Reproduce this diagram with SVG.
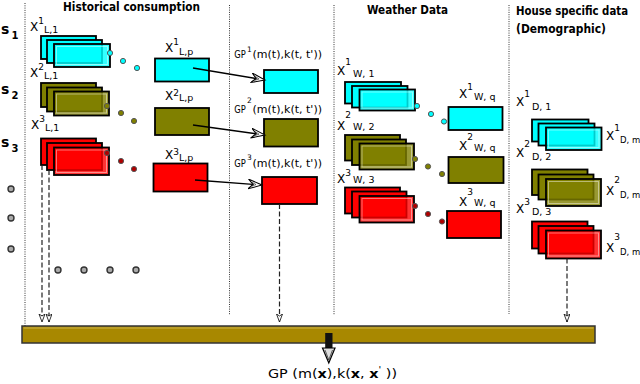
<svg xmlns="http://www.w3.org/2000/svg" width="640" height="384" viewBox="0 0 640 384">
<style>
text{font-family:"DejaVu Sans","Liberation Sans",sans-serif;fill:#000}
.t{font-weight:bold;font-size:12px}
.x{font-size:12px}
.sp{font-size:9px}
.sb{font-size:9.5px}
.sd{font-size:8.5px}
.s{font-weight:bold;font-size:14px}
.sn{font-weight:bold;font-size:10px}
.gp{font-size:11px}
.gs{font-size:7.5px}
.c{fill:#00ffff}
.o{fill:#808000}
.r{fill:#ff0000}
rect.n{stroke:#000;stroke-width:1.8}
rect.f{fill-opacity:0.8}
rect.h{fill:none;stroke:#fff;stroke-opacity:0.45;stroke-width:1}
.sep{stroke:#333;stroke-width:1;stroke-dasharray:1 1.3;fill:none}
.dash{stroke:#222;stroke-width:1.2;stroke-dasharray:5 2.5;fill:none;marker-end:url(#dh)}
.arr{stroke:#000;stroke-width:1.3;fill:none;marker-end:url(#ah)}
.cc{stroke:#555;stroke-width:1}
.dot{fill:#aaa;stroke:#333;stroke-width:1.4}
</style>
<defs>
<marker id="ah" markerUnits="userSpaceOnUse" markerWidth="16" markerHeight="12" refX="14" refY="5" orient="auto">
<path d="M0,0 L14,5 L0,10 L5,5 Z" fill="#fff" stroke="#000" stroke-width="1"/>
<path d="M2,2 L6,5 L2,8 M4,3 L8,5 L4,7" fill="none" stroke="#000" stroke-width="0.5"/>
</marker>
<marker id="dh" markerUnits="userSpaceOnUse" markerWidth="10" markerHeight="8" refX="8" refY="3" orient="auto">
<path d="M0,0 L8,3 L0,6 L2,3 Z" fill="#fff" stroke="#000" stroke-width="0.8"/>
</marker>
</defs>

<g id="separators">
<line class="sep" x1="25" y1="3" x2="25" y2="326"/>
<line class="sep" x1="229.5" y1="5" x2="229.5" y2="315"/>
<line class="sep" x1="334" y1="5" x2="334" y2="315"/>
<line class="sep" x1="509" y1="5" x2="509" y2="314"/>
</g>

<g id="titles">
<text class="t" x="63" y="10.5" textLength="137" lengthAdjust="spacingAndGlyphs">Historical consumption</text>
<text class="t" x="367" y="14" textLength="81" lengthAdjust="spacingAndGlyphs">Weather Data</text>
<text class="t" x="516" y="14.5" textLength="112" lengthAdjust="spacingAndGlyphs">House specific data</text>
<text class="t" x="516" y="32.5" textLength="90" lengthAdjust="spacingAndGlyphs">(Demographic)</text>
</g>

<g id="series-labels">
<text class="s" x="1" y="33.5">s<tspan class="sn" x="11.5" y="39">1</tspan></text>
<text class="s" x="1" y="93.5">s<tspan class="sn" x="11.5" y="99">2</tspan></text>
<text class="s" x="1" y="147">s<tspan class="sn" x="11.5" y="152">3</tspan></text>
</g>

<g id="ellipsis-dots">
<circle class="dot" cx="11" cy="189" r="3"/>
<circle class="dot" cx="11" cy="218" r="3"/>
<circle class="dot" cx="11" cy="249" r="3"/>
<circle class="dot" cx="58" cy="270" r="3"/>
<circle class="dot" cx="84" cy="270" r="3"/>
<circle class="dot" cx="110" cy="270" r="3"/>
<circle class="dot" cx="136" cy="270" r="3"/>
</g>

<g id="hist-1">
<text class="x" x="30" y="30.5">X<tspan class="sp" y="24">1</tspan><tspan class="sb" y="33">L,1</tspan></text>
<rect class="n c" x="41" y="36" width="55" height="23"/>
<rect class="n c" x="47" y="40" width="55" height="23"/>
<rect class="n c f" x="54" y="44" width="56" height="23"/>
<rect class="h" x="56.5" y="46.5" width="51" height="18"/>
<circle class="cc c" cx="110" cy="53" r="2.6"/>
<circle class="cc c" cx="123" cy="61" r="2.6"/>
<circle class="cc c" cx="137" cy="68" r="2.6"/>
</g>
<g id="hist-2">
<text class="x" x="30" y="76.5">X<tspan class="sp" y="70">2</tspan><tspan class="sb" y="79">L,1</tspan></text>
<rect class="n o" x="41" y="83" width="55" height="24"/>
<rect class="n o" x="47" y="87.5" width="55" height="24"/>
<rect class="n o f" x="54" y="91.5" width="55" height="24"/>
<rect class="h" x="56.5" y="94" width="50" height="19"/>
<circle class="cc o" cx="107" cy="106" r="2.6"/>
<circle class="cc o" cx="121" cy="113" r="2.6"/>
<circle class="cc o" cx="134" cy="121" r="2.6"/>
</g>
<g id="hist-3">
<text class="x" x="31" y="128.5">X<tspan class="sp" y="122">3</tspan><tspan class="sb" y="131">L,1</tspan></text>
<rect class="n r" x="41" y="138.5" width="55" height="26.5"/>
<rect class="n r" x="47" y="143" width="55" height="27"/>
<rect class="n r f" x="54" y="147.5" width="55" height="27.5"/>
<rect class="h" x="56.5" y="150" width="50" height="22.5"/>
<circle class="cc" cx="107" cy="153" r="2.6" fill="#b00000"/>
<circle class="cc" cx="121" cy="161" r="2.6" fill="#b00000"/>
<circle class="cc" cx="134" cy="169" r="2.6" fill="#b00000"/>
</g>

<g id="hist-p-1">
<text class="x" x="165" y="51.5">X<tspan class="sp" y="44.5">1</tspan><tspan class="sb" y="54.5">L,p</tspan></text>
<rect class="n c" x="155" y="58.5" width="54" height="23"/>
</g>
<g id="hist-p-2">
<text class="x" x="165" y="100">X<tspan class="sp" y="96">2</tspan><tspan class="sb" y="101">L,p</tspan></text>
<rect class="n o" x="155" y="108" width="54" height="27"/>
</g>
<g id="hist-p-3">
<text class="x" x="165" y="159.3">X<tspan class="sp" y="155">3</tspan><tspan class="sb" y="161">L,p</tspan></text>
<rect class="n r" x="153.5" y="163.5" width="54" height="28"/>
</g>

<g id="gp-1">
<text class="gp" x="234.3" y="58" textLength="11.5" lengthAdjust="spacingAndGlyphs">GP</text>
<text class="gs" x="247" y="51.5">1</text>
<text class="gp" x="252.5" y="58" textLength="69.5" lengthAdjust="spacingAndGlyphs">(m(t),k(t, t'))</text>
<rect class="n c" x="264" y="70" width="54" height="23"/>
</g>
<g id="gp-2">
<text class="gp" x="234.3" y="113" textLength="11.5" lengthAdjust="spacingAndGlyphs">GP</text>
<text class="gs" x="247" y="103">2</text>
<text class="gp" x="252.5" y="113" textLength="69.5" lengthAdjust="spacingAndGlyphs">(m(t),k(t, t'))</text>
<rect class="n o" x="264" y="119" width="54" height="27.5"/>
</g>
<g id="gp-3">
<text class="gp" x="234.3" y="166.5" textLength="11.5" lengthAdjust="spacingAndGlyphs">GP</text>
<text class="gs" x="247" y="160">3</text>
<text class="gp" x="252.5" y="166.5" textLength="69.5" lengthAdjust="spacingAndGlyphs">(m(t),k(t, t'))</text>
<rect class="n r" x="262" y="177" width="55" height="27"/>
</g>

<g id="weather-1">
<text class="x" x="337" y="75">X<tspan class="sp" y="65">1</tspan><tspan class="sb" dx="2" y="77">W, 1</tspan></text>
<rect class="n c" x="345" y="82" width="56" height="21.5"/>
<rect class="n c" x="352" y="86" width="55.5" height="21.5"/>
<rect class="n c f" x="359.5" y="89.5" width="55.5" height="21"/>
<rect class="h" x="362" y="92" width="50.5" height="16"/>
<circle class="cc c" cx="417" cy="106" r="2.6"/>
<circle class="cc c" cx="431" cy="114" r="2.6"/>
<circle class="cc c" cx="444" cy="121.5" r="2.6"/>
</g>
<g id="weather-2">
<text class="x" x="337" y="130">X<tspan class="sp" y="118">2</tspan><tspan class="sb" dx="2" y="130">W, 2</tspan></text>
<rect class="n o" x="345" y="135" width="55" height="25.5"/>
<rect class="n o" x="352" y="139.5" width="54" height="25.5"/>
<rect class="n o f" x="359.5" y="143.5" width="54.5" height="26"/>
<rect class="h" x="362" y="146" width="49.5" height="21"/>
<circle class="cc o" cx="415" cy="159" r="2.6"/>
<circle class="cc o" cx="428" cy="166.5" r="2.6"/>
<circle class="cc o" cx="442" cy="174" r="2.6"/>
</g>
<g id="weather-3">
<text class="x" x="337" y="183">X<tspan class="sp" y="176">3</tspan><tspan class="sb" dx="2" y="183">W, 3</tspan></text>
<rect class="n r" x="345" y="187.5" width="55" height="26"/>
<rect class="n r" x="352" y="191.5" width="54.5" height="26"/>
<rect class="n r f" x="359.5" y="196" width="54.5" height="26.5"/>
<rect class="h" x="362" y="198.5" width="49.5" height="21.5"/>
<circle class="cc" cx="415" cy="206" r="2.6" fill="#b00000"/>
<circle class="cc" cx="428" cy="214" r="2.6" fill="#b00000"/>
<circle class="cc" cx="442" cy="221.5" r="2.6" fill="#b00000"/>
</g>
<g id="weather-q-1">
<text class="x" x="459" y="98">X<tspan class="sp" y="90">1</tspan><tspan class="sb" dx="1" y="100">W, q</tspan></text>
<rect class="n c" x="448.5" y="107" width="54" height="23"/>
</g>
<g id="weather-q-2">
<text class="x" x="459" y="150">X<tspan class="sp" y="140">2</tspan><tspan class="sb" dx="1" y="151">W, q</tspan></text>
<rect class="n o" x="448.5" y="157" width="55" height="26"/>
</g>
<g id="weather-q-3">
<text class="x" x="459" y="206">X<tspan class="sp" y="195">3</tspan><tspan class="sb" dx="1" y="206">W, q</tspan></text>
<rect class="n r" x="447" y="211" width="54" height="27"/>
</g>

<g id="house-1">
<text class="x" x="516" y="106">X<tspan class="sp" y="97">1</tspan><tspan class="sb" dx="2" y="109.5">D, 1</tspan></text>
<rect class="n c" x="532" y="119.5" width="56.5" height="22"/>
<rect class="n c" x="538.5" y="123.5" width="56" height="22"/>
<rect class="n c f" x="546" y="127.5" width="55.5" height="22.5"/>
<rect class="h" x="548.5" y="130" width="50.5" height="17.5"/>
<text class="x" x="606" y="140">X<tspan class="sp" y="131">1</tspan><tspan class="sd" y="143">D, m</tspan></text>
</g>
<g id="house-2">
<text class="x" x="516" y="156.7">X<tspan class="sp" y="146.7">2</tspan><tspan class="sb" dx="2" y="160">D, 2</tspan></text>
<rect class="n o" x="532" y="169.5" width="55.5" height="25.5"/>
<rect class="n o" x="538.5" y="174.5" width="55" height="25"/>
<rect class="n o f" x="546" y="179" width="55" height="27"/>
<rect class="h" x="548.5" y="181.5" width="50" height="22"/>
<text class="x" x="606" y="195">X<tspan class="sp" y="183">2</tspan><tspan class="sd" y="198">D, m</tspan></text>
</g>
<g id="house-3">
<text class="x" x="516" y="213">X<tspan class="sp" y="205">3</tspan><tspan class="sb" dx="2" y="215">D, 3</tspan></text>
<rect class="n r" x="532" y="221.5" width="55.5" height="27"/>
<rect class="n r" x="538.5" y="226" width="55" height="27.5"/>
<rect class="n r f" x="546" y="230.5" width="55" height="28"/>
<rect class="h" x="548.5" y="233" width="50" height="23"/>
<text class="x" x="606" y="251.7">X<tspan class="sp" y="240">3</tspan><tspan class="sd" y="255">D, m</tspan></text>
</g>

<g id="combined-gp">
<rect x="22" y="326" width="573" height="17" fill="#a88800" stroke="#333" stroke-width="1.5"/>
<line x1="23.5" y1="328" x2="593.5" y2="328" stroke="#d8c060" stroke-width="0.8"/>
<rect x="325.2" y="333" width="7.3" height="15.5" fill="#111"/>
<path d="M322.5,348 L335,348 L328.8,363 Z" fill="#ddd" stroke="#000" stroke-width="1.2"/>
<path d="M325,350 L328.8,360 L332.5,350" fill="none" stroke="#000" stroke-width="0.6"/>
<text x="268" y="378" font-size="13" textLength="129" lengthAdjust="spacingAndGlyphs">GP (m(<tspan font-weight="bold">x</tspan>),k(<tspan font-weight="bold">x</tspan>, <tspan font-weight="bold">x</tspan><tspan font-size="9" dy="-5">'</tspan><tspan dy="5"> ))</tspan></text>
</g>

<g id="connectors">
<line class="arr" x1="193" y1="68" x2="265" y2="80"/>
<line class="arr" x1="193" y1="125" x2="265" y2="135"/>
<line class="arr" x1="195" y1="180" x2="262" y2="185"/>
<line class="dash" x1="42" y1="165" x2="42" y2="322"/>
<line class="dash" x1="49" y1="170" x2="49" y2="322"/>
<line class="dash" x1="279.5" y1="204" x2="279.5" y2="322"/>
<line class="dash" x1="567" y1="258.5" x2="567" y2="322"/>
</g>
</svg>
